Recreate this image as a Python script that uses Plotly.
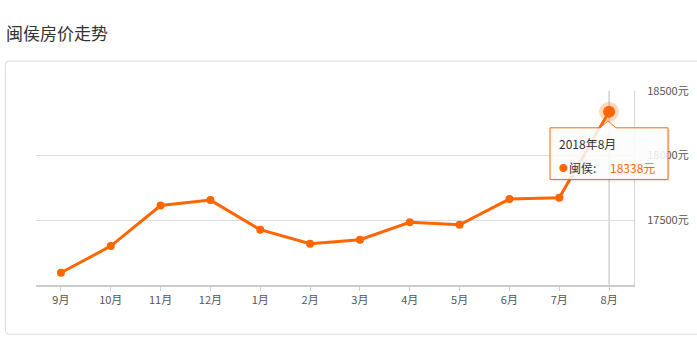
import plotly.graph_objects as go

# ---- data ----
months = ["9月", "10月", "11月", "12月", "1月", "2月", "3月", "4月", "5月", "6月", "7月", "8月"]
prices = [17092, 17298, 17612, 17654, 17425, 17317, 17347, 17482, 17463, 17662, 17672, 18338]
y_ticks = [17500, 18000, 18500]
y_tick_labels = [f"{v}元" for v in y_ticks]
series_name = "闽侯"
title_text = "闽侯房价走势"
tooltip_title = "2018年8月"

W, H = 697, 345
ORANGE = "#f60"
FONT = "Noto Sans CJK SC, Microsoft YaHei, sans-serif"


def px(x):
    return x / W


def py(y):
    return 1 - y / H


fig = go.Figure()

fig.add_trace(go.Scatter(
    x=months, y=prices, mode="lines+markers",
    line=dict(color=ORANGE, width=3),
    marker=dict(color=ORANGE, size=8),
    hoverinfo="skip", showlegend=False, cliponaxis=False,
))
# highlighted last point (halo + dot)
fig.add_trace(go.Scatter(
    x=[months[-1]], y=[prices[-1]], mode="markers",
    marker=dict(color="rgba(255,102,0,0.25)", size=20),
    hoverinfo="skip", showlegend=False, cliponaxis=False,
))
fig.add_trace(go.Scatter(
    x=[months[-1]], y=[prices[-1]], mode="markers",
    marker=dict(color=ORANGE, size=12),
    hoverinfo="skip", showlegend=False, cliponaxis=False,
))

shapes = []
# outer panel
shapes.append(dict(
    type="path", xref="paper", yref="paper", layer="below",
    path=(f"M {px(708)},{py(53.5)} L {px(9)},{py(53.5)} "
          f"Q {px(5.5)},{py(53.5)} {px(5.5)},{py(57)} "
          f"L {px(5.5)},{py(330.5)} Q {px(5.5)},{py(334)} {px(9)},{py(334)} "
          f"L {px(708)},{py(334)}"),
    line=dict(color="#dcdcdc", width=1),
))
# axis pointer line
shapes.append(dict(
    type="line", xref="x", yref="paper",
    x0=len(months) - 1, x1=len(months) - 1, y0=py(84), y1=py(283),
    line=dict(color="#bbbbbb", width=1), layer="below",
))
# tooltip shadow
shapes.append(dict(
    type="rect", xref="paper", yref="paper",
    x0=px(551), x1=px(670), y0=py(124), y1=py(177),
    line=dict(width=0), fillcolor="rgba(0,0,0,0.08)",
))
# tooltip box with notch
bx0, bx1, by0, by1 = 550, 668, 122, 175
tip_x = 608
shapes.append(dict(
    type="path", xref="paper", yref="paper",
    path=(f"M {px(bx0)},{py(by0)} L {px(tip_x-8)},{py(by0)} L {px(tip_x)},{py(115)} "
          f"L {px(tip_x+8)},{py(by0)} L {px(bx1)},{py(by0)} L {px(bx1)},{py(by1)} "
          f"L {px(bx0)},{py(by1)} Z"),
    fillcolor="rgba(255,255,255,0.86)",
    line=dict(color=ORANGE, width=1),
))

annotations = [
    dict(text=title_text, x=px(4), y=py(24), xref="paper", yref="paper",
         xanchor="left", yanchor="middle", showarrow=False,
         font=dict(size=17, color="#333333", family=FONT)),
    dict(text=tooltip_title, x=px(557), y=py(138), xref="paper", yref="paper",
         xanchor="left", yanchor="middle", showarrow=False,
         font=dict(size=12, color="#333333", family=FONT)),
    dict(text="●", x=px(557), y=py(163), xref="paper", yref="paper",
         xanchor="left", yanchor="middle", showarrow=False,
         font=dict(size=9, color=ORANGE, family=FONT)),
    dict(text=f"{series_name}:", x=px(567), y=py(163), xref="paper", yref="paper",
         xanchor="left", yanchor="middle", showarrow=False,
         font=dict(size=12, color="#333333", family=FONT)),
    dict(text=f"{prices[-1]}元", x=px(608), y=py(163), xref="paper", yref="paper",
         xanchor="left", yanchor="middle", showarrow=False,
         font=dict(size=12, color=ORANGE, family=FONT)),
]

fig.update_layout(
    width=W, height=H, autosize=False,
    margin=dict(l=0, r=0, t=0, b=0),
    paper_bgcolor="white", plot_bgcolor="white",
    font=dict(family=FONT, color="#555555", size=11),
    shapes=shapes, annotations=annotations,
    xaxis=dict(
        domain=[px(36), px(634)], type="category",
        range=[-0.5, len(months) - 0.5],
        showgrid=False, zeroline=False,
        showline=True, linecolor="#cccccc", linewidth=2,
        ticks="outside", ticklen=4, tickcolor="#cccccc",
        tickfont=dict(size=11, color="#555555", family=FONT),
        fixedrange=True,
    ),
    yaxis=dict(
        domain=[py(283), py(84)], range=[17000, 18500],
        side="right", tickvals=y_ticks, ticktext=y_tick_labels,
        showgrid=True, gridcolor="#dddddd", gridwidth=1,
        zeroline=False, showline=True, linecolor="#d5d5d5", linewidth=1,
        ticks="", ticklabelstandoff=10,
        tickfont=dict(size=11, color="#555555", family=FONT),
        fixedrange=True,
    ),
)

fig.write_html("out.html", config={"displayModeBar": False})
